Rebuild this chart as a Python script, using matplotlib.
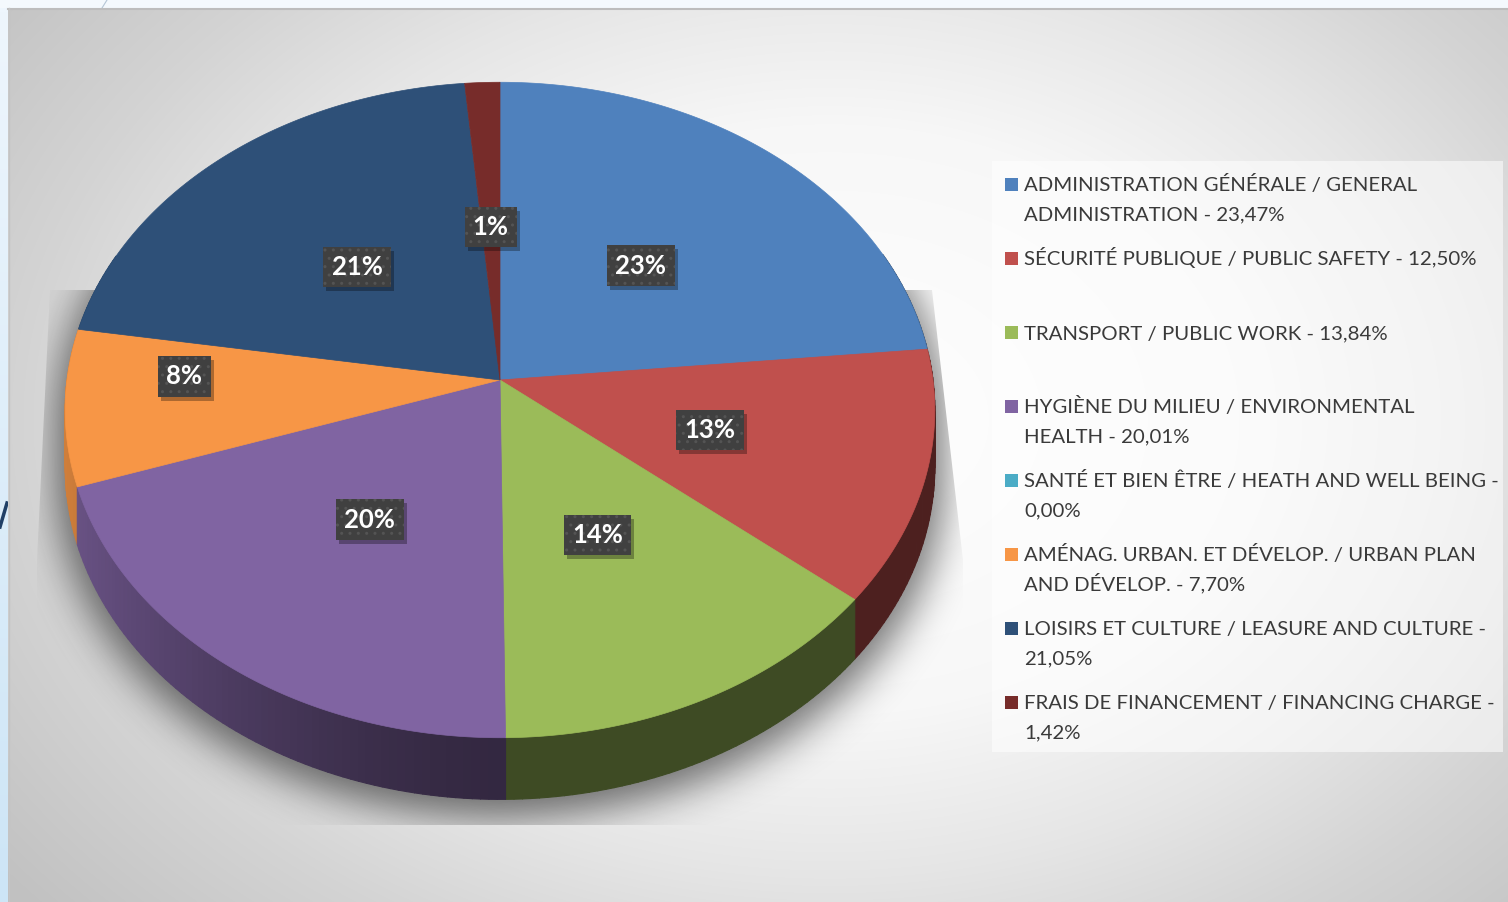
import numpy as np
import matplotlib.pyplot as plt
from matplotlib.path import Path
from matplotlib.patches import Rectangle, Polygon
from matplotlib.collections import PolyCollection
from matplotlib.colors import to_rgb

plt.rcParams["font.family"] = ["Lato", "DejaVu Sans"]

categories = [
    "ADMINISTRATION GÉNÉRALE / GENERAL\nADMINISTRATION",
    "SÉCURITÉ PUBLIQUE / PUBLIC SAFETY",
    "TRANSPORT / PUBLIC WORK",
    "HYGIÈNE DU MILIEU / ENVIRONMENTAL\nHEALTH",
    "SANTÉ ET BIEN ÊTRE / HEATH AND WELL BEING",
    "AMÉNAG. URBAN. ET DÉVELOP. / URBAN PLAN\nAND DÉVELOP.",
    "LOISIRS ET CULTURE / LEASURE AND CULTURE",
    "FRAIS DE FINANCEMENT / FINANCING CHARGE",
]
values = [23.47, 12.50, 13.84, 20.01, 0.00, 7.70, 21.05, 1.42]
colors = ["#4F81BD", "#C0504D", "#9BBB59", "#8064A2",
          "#4BACC6", "#F79646", "#2E5078", "#772C2A"]

W, H = 1508, 902

# 3d pie geometry, in pixels
CX, CY = 500, 380
RX, RY = 433, 325
K = 0.0915          # perspective strength
DEPTH = 56          # pie thickness

# label placement (radius, fraction along slice); excel moved the 8% one
label_place = {5: (0.73, 0.72)}


def project(r, theta, z=0.0):
    # theta runs clockwise from 12 o'clock
    u = r * np.sin(theta)
    v = -r * np.cos(theta)
    d = 1 - K * v
    return CX + RX * u / d, CY + (RY * v + z) / d


def blur(a, sigma):
    n = int(3 * sigma)
    k = np.exp(-0.5 * (np.arange(-n, n + 1) / sigma) ** 2)
    k /= k.sum()
    a = np.apply_along_axis(lambda r: np.convolve(r, k, mode="same"), 1, a)
    a = np.apply_along_axis(lambda r: np.convolve(r, k, mode="same"), 0, a)
    return a


fig = plt.figure(figsize=(W / 100, H / 100), dpi=100)
fig.patch.set_facecolor("#f4f9fd")
ax = fig.add_axes([0, 0, 1, 1])
ax.axis("off")

# slide strip on the left
c_top, c_bot = np.array(to_rgb("#eef6fd")), np.array(to_rgb("#cde5f6"))
strip = c_top + np.linspace(0, 1, 200)[:, None, None] * (c_bot - c_top)
ax.imshow(strip, extent=(0, 8, H, 8), aspect="auto", zorder=0)
ax.plot([107, 102], [0, 8], color="#b5c6d6", lw=0.8, zorder=0)
ax.plot([0, 7], [527, 503], color="#1f3f66", lw=2.5, zorder=0)

# chart area radial gradient
yy, xx = np.mgrid[8:H, 8:W] + 0.5
dist = np.hypot((xx - 830) / 900, (yy - 420) / 650)
g = np.interp(dist, [0, 0.45, 0.7, 0.9, 1.15], [1.0, 0.97, 0.9, 0.83, 0.76])
ax.imshow(np.dstack([g, g, g]), extent=(8, W, H, 8), aspect="auto",
          interpolation="bilinear", zorder=0)
ax.plot([8, W], [8.5, 8.5], color="#bdbdbd", lw=1.5, zorder=1)
ax.plot([8.5, 8.5], [8, H], color="#c4c4c4", lw=1.0, zorder=1)

# soft shadow below the pie
th = np.linspace(0, 2 * np.pi, 361)
gy, gx = np.mgrid[0:H:2, 0:W:2] + 1.0
pts = np.column_stack([gx.ravel(), gy.ravel() - 10])
mask = np.zeros(len(pts), bool)
for z in (0, DEPTH / 2, DEPTH):
    mask |= Path(np.column_stack(project(1.02, th, z))).contains_points(pts)
mask = blur(mask.reshape(gx.shape).astype(float), 10)
shadow = np.zeros(gx.shape + (4,))
shadow[..., 3] = 0.55 * mask
im = ax.imshow(shadow, extent=(0, W, H, 0), aspect="auto", zorder=1,
               interpolation="bilinear")
clip = Polygon([(50, 290), (932, 290), (963, 560), (963, 825), (37, 825), (37, 560)],
               transform=ax.transData)
im.set_clip_path(clip)

# pie
total = sum(values)
bounds = np.concatenate([[0], np.cumsum(values)]) / total * 2 * np.pi

segs, segcols, depth = [], [], []
for i, (a0, a1) in enumerate(zip(bounds[:-1], bounds[1:])):
    if a1 - a0 <= 0:
        continue
    n = max(2, int(np.degrees(a1 - a0)))
    t = np.linspace(a0, a1, n + 1)
    for ta, tb in zip(t[:-1], t[1:]):
        tm = (ta + tb) / 2
        if -np.cos(tm) < -0.4:
            continue
        xa, ya = project(1, ta)
        xb, yb = project(1, tb)
        xc, yc = project(1, tb, DEPTH)
        xd, yd = project(1, ta, DEPTH)
        shade = 0.4 + 0.45 * np.clip(-np.sin(tm), 0, 1) ** 1.5
        segs.append([(xa, ya), (xb, yb), (xc, yc), (xd, yd)])
        segcols.append(np.array(to_rgb(colors[i])) * shade)
        depth.append(-np.cos(tm))
order = np.argsort(depth)
ax.add_collection(PolyCollection([segs[k] for k in order],
                                 facecolors=[segcols[k] for k in order],
                                 edgecolors=[segcols[k] for k in order],
                                 linewidths=0.8, zorder=2))

for i, (a0, a1) in enumerate(zip(bounds[:-1], bounds[1:])):
    if a1 - a0 <= 0:
        continue
    t = np.linspace(a0, a1, max(3, int(np.degrees(a1 - a0) * 2)))
    px, py = project(1, t)
    ax.fill(np.r_[CX, px], np.r_[CY, py], color=colors[i], lw=0.5, zorder=3)

# data labels
labels = []
for i, (a0, a1) in enumerate(zip(bounds[:-1], bounds[1:])):
    if values[i] <= 0:
        continue
    r, frac = label_place.get(i, (0.5, 0.5))
    x, y = project(r, a0 + frac * (a1 - a0))
    txt = f"{int(np.floor(values[i] / total * 100 + 0.5))}%"
    labels.append(ax.text(x, y + 2, txt, ha="center", va="center", fontsize=18.5,
                          fontweight="bold", color="white", zorder=5,
                          bbox=dict(boxstyle="square,pad=0.32", fc="#404040",
                                    ec="#545454", hatch="..", lw=0)))

# legend
ax.add_patch(Rectangle((992, 161), 511, 591, fc="white", alpha=0.55, lw=0, zorder=2))
for i, (name, val) in enumerate(zip(categories, values)):
    sep = " - " if ("\n" in name or len(name) < 36) else " -\n"
    label = name + sep + f"{val:.2f}".replace(".", ",") + "%"
    yc = 184 + 74 * i
    ax.add_patch(Rectangle((1005, yc - 6.5), 13, 13, fc=colors[i], lw=0, zorder=3))
    for j, line in enumerate(label.split("\n")):
        ax.text(1024, yc + 7.5 + 29 * j, line, fontsize=14.7, color="#3a3a3a",
                ha="left", va="baseline", zorder=3)

ax.set_xlim(0, W)
ax.set_ylim(H, 0)

# drop shadows behind the label boxes
fig.canvas.draw()
inv = ax.transData.inverted()
for t in labels:
    bb = t.get_bbox_patch().get_window_extent()
    (x0, y0), (x1, y1) = inv.transform([[bb.x0, bb.y0], [bb.x1, bb.y1]])
    ax.add_patch(Rectangle((min(x0, x1) + 3, min(y0, y1) + 4), abs(x1 - x0),
                           abs(y1 - y0), fc="black", alpha=0.3, lw=0, zorder=4))

fig.savefig("out.png", dpi=100)
